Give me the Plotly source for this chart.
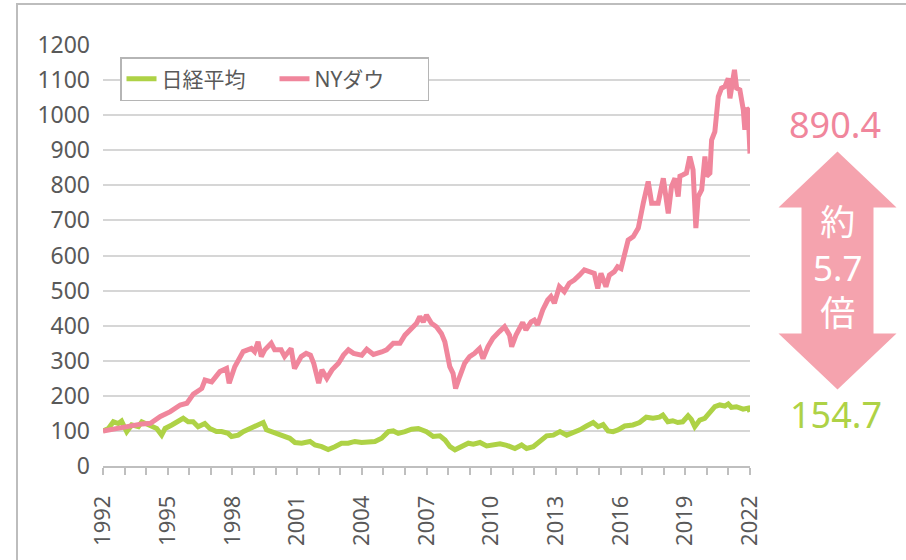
import plotly.graph_objects as go

# ---- data (index, Jan 1992 = 100) ----
nikkei_x = [1992.0, 1992.25, 1992.48, 1992.71, 1992.86, 1993.1, 1993.33, 1993.64, 1993.8, 1994.1,
            1994.33, 1994.49, 1994.72, 1994.88, 1995.19, 1995.49, 1995.72, 1995.95, 1996.18, 1996.41,
            1996.72, 1996.95, 1997.26, 1997.5, 1997.8, 1997.96, 1998.27, 1998.5, 1998.73, 1998.96,
            1999.19, 1999.43, 1999.58, 1999.81, 2000.12, 2000.43, 2000.66, 2000.9, 2001.21, 2001.6,
            2001.83, 2002.14, 2002.44, 2002.75, 2003.06, 2003.37, 2003.68, 2003.99, 2004.3, 2004.61,
            2004.92, 2005.23, 2005.46, 2005.69, 2006.0, 2006.31, 2006.62, 2007.0, 2007.31, 2007.62,
            2007.86, 2008.09, 2008.32, 2008.63, 2008.94, 2009.17, 2009.48, 2009.79, 2010.1, 2010.41,
            2010.72, 2011.1, 2011.41, 2011.64, 2011.95, 2012.26, 2012.57, 2012.88, 2013.19, 2013.5,
            2013.8, 2014.11, 2014.42, 2014.73, 2014.96, 2015.19, 2015.42, 2015.65, 2015.88, 2016.19,
            2016.57, 2016.88, 2017.19, 2017.5, 2017.8, 2017.96, 2018.19, 2018.42, 2018.65, 2018.88,
            2019.13, 2019.28, 2019.44, 2019.67, 2019.9, 2020.13, 2020.37, 2020.6, 2020.83, 2020.99,
            2021.14, 2021.37, 2021.68, 2021.92, 2022.0]
nikkei_y = [100, 107, 126, 121, 128, 98, 117, 112, 126, 118,
            112, 107, 88, 107, 117, 126, 136, 126, 126, 112,
            121, 107, 98, 98, 93, 84, 88, 98, 105, 112,
            117, 124, 103, 98, 93, 84, 79, 67, 65, 70,
            60, 55, 47, 55, 65, 65, 70, 67, 70, 70,
            79, 98, 100, 93, 98, 105, 107, 98, 84, 86,
            74, 55, 46, 55, 65, 62, 67, 57, 60, 63,
            59, 50, 60, 50, 55, 70, 86, 88, 98, 88,
            95, 103, 114, 124, 112, 118, 100, 98, 103, 114,
            117, 124, 139, 136, 139, 145, 126, 129, 124, 126,
            143, 133, 112, 131, 136, 150, 169, 174, 171, 177,
            167, 169, 162, 165, 154.7]

dow_x = [1992.0, 1992.58, 1993.2, 1993.81, 1994.2, 1994.66, 1995.12, 1995.58, 1995.89, 1996.19,
         1996.58, 1996.73, 1997.04, 1997.42, 1997.73, 1997.85, 1998.11, 1998.5, 1998.88, 1999.03,
         1999.19, 1999.34, 1999.5, 1999.8, 1999.96, 2000.26, 2000.42, 2000.72, 2000.88, 2001.19,
         2001.42, 2001.62, 2001.77, 2002.0, 2002.15, 2002.38, 2002.62, 2002.92, 2003.15, 2003.38,
         2003.62, 2004.0, 2004.23, 2004.54, 2004.92, 2005.15, 2005.46, 2005.77, 2006.0, 2006.23,
         2006.54, 2006.69, 2006.85, 2007.0, 2007.23, 2007.46, 2007.69, 2007.85, 2008.08, 2008.23,
         2008.35, 2008.54, 2008.77, 2009.0, 2009.23, 2009.46, 2009.62, 2009.85, 2010.08, 2010.38,
         2010.62, 2010.85, 2010.95, 2011.15, 2011.46, 2011.61, 2011.85, 2012.0, 2012.15, 2012.39,
         2012.62, 2012.77, 2012.93, 2013.16, 2013.39, 2013.62, 2013.85, 2014.09, 2014.32, 2014.55,
         2014.78, 2014.94, 2015.09, 2015.32, 2015.48, 2015.71, 2015.86, 2016.02, 2016.17, 2016.35,
         2016.59, 2016.82, 2017.05, 2017.28, 2017.44, 2017.74, 2017.98, 2018.21, 2018.36, 2018.52,
         2018.67, 2018.75, 2018.9, 2019.05, 2019.21, 2019.36, 2019.49, 2019.6, 2019.76, 2019.91,
         2019.99, 2020.14, 2020.22, 2020.37, 2020.53, 2020.68, 2020.84, 2020.99, 2021.07, 2021.2,
         2021.28, 2021.38, 2021.53, 2021.69, 2021.76, 2021.84, 2021.91, 2022.0]
dow_y = [100, 107, 114, 120, 122, 141, 155, 174, 179, 205,
         221, 245, 240, 269, 278, 236, 283, 326, 335, 326,
         354, 312, 331, 350, 331, 331, 312, 335, 278, 312,
         321, 316, 293, 236, 274, 250, 274, 293, 316, 331,
         321, 316, 333, 318, 325, 331, 350, 350, 373, 388,
         407, 426, 411, 430, 407, 397, 378, 354, 283, 264,
         221, 255, 293, 312, 321, 335, 306, 340, 364, 383,
         397, 373, 340, 373, 409, 388, 411, 416, 402, 445,
         473, 483, 464, 511, 497, 521, 530, 544, 559, 554,
         549, 506, 549, 511, 544, 554, 568, 563, 606, 644,
         654, 678, 749, 811, 749, 749, 820, 720, 796, 820,
         768, 826, 830, 835, 882, 844, 678, 768, 787, 882,
         826, 835, 929, 953, 1053, 1077, 1082, 1105, 1048, 1100,
         1129, 1077, 1072, 1015, 958, 1020, 1015, 890.4]

years = list(range(1992, 2023))
year_labels = [str(y) if (y - 1992) % 3 == 0 else "" for y in years]
y_ticks = list(range(0, 1201, 100))

series_names = ["日経平均", "NYダウ"]
end_labels = ["154.7", "890.4"]
ratio_text = "約<br>5.7<br>倍"

GREEN = "rgb(174,210,70)"
PINK = "rgb(240,134,156)"
ARROW = "rgb(245,163,174)"
FONT = "Noto Sans, Noto Sans CJK JP, sans-serif"

# layout geometry (pixels)
L, R, T, B = 103, 156, 45, 94
W, H = 906, 560
PW, PH = W - L - R, H - T - B


def px(x):
    return (x - L) / PW


def py(y):
    return (H - B - y) / PH


fig = go.Figure()
fig.add_trace(go.Scatter(x=nikkei_x, y=nikkei_y, mode="lines", name=series_names[0],
                         line=dict(color=GREEN, width=5)))
fig.add_trace(go.Scatter(x=dow_x, y=dow_y, mode="lines", name=series_names[1],
                         line=dict(color=PINK, width=5)))

# frame (left + top edges)
frame = f"M {px(17)},{py(600)} L {px(17)},{py(4)} L {px(960)},{py(4)}"
shapes = [dict(type="path", xref="paper", yref="paper", path=frame,
               line=dict(color="#bdbdbd", width=2), layer="below")]

# double-headed arrow
pts = [(837.5, 151.5), (896.5, 207.5), (873.5, 207.5), (873.5, 333.5), (896.5, 333.5),
       (837.5, 389.5), (778.5, 333.5), (801.5, 333.5), (801.5, 207.5), (778.5, 207.5)]
path = "M " + " L ".join(f"{px(a)},{py(b)}" for a, b in pts) + " Z"
shapes.append(dict(type="path", xref="paper", yref="paper", path=path,
                   fillcolor=ARROW, line=dict(width=0)))

annotations = [
    dict(x=px(835), y=py(125), xref="paper", yref="paper", text=end_labels[1], showarrow=False,
         font=dict(size=36, color=PINK, family=FONT), xanchor="center", yanchor="middle"),
    dict(x=px(836), y=py(414), xref="paper", yref="paper", text=end_labels[0], showarrow=False,
         font=dict(size=36, color=GREEN, family=FONT), xanchor="center", yanchor="middle"),
    dict(x=px(837.5), y=py(267), xref="paper", yref="paper", text=ratio_text, showarrow=False,
         font=dict(size=35, color="white", family=FONT), xanchor="center", yanchor="middle",
         align="center"),
]

fig.update_layout(
    width=W, height=H,
    margin=dict(l=L, r=R, t=T, b=B, pad=0),
    paper_bgcolor="white", plot_bgcolor="white",
    font=dict(family=FONT, color="#595959", size=22),
    showlegend=True,
    legend=dict(orientation="h", x=px(120), y=py(57), xanchor="left", yanchor="top",
                bordercolor="#b5b5b5", borderwidth=1.5, bgcolor="white",
                entrywidth=108, entrywidthmode="pixels",
                font=dict(size=21, color="#595959", family=FONT)),
    xaxis=dict(range=[1992, 2022], tickmode="array", tickvals=years, ticktext=year_labels,
               tickangle=-90, ticks="outside", ticklen=7, tickcolor="#bfbfbf", tickwidth=1.5,
               showline=True, linecolor="#bfbfbf", linewidth=1.5, showgrid=False, zeroline=False,
               ticklabelstandoff=12, tickfont=dict(size=22, color="#595959")),
    yaxis=dict(range=[0, 1200], tickmode="array", tickvals=y_ticks, showgrid=True,
               gridcolor="#d6d6d6", gridwidth=1.5, zeroline=False, showline=False, ticks="",
               ticklabelstandoff=12, tickfont=dict(size=23, color="#595959")),
    shapes=shapes,
    annotations=annotations,
)

fig.write_html("out.html", config={"displayModeBar": False},
               post_script="document.body.style.margin='0';")
